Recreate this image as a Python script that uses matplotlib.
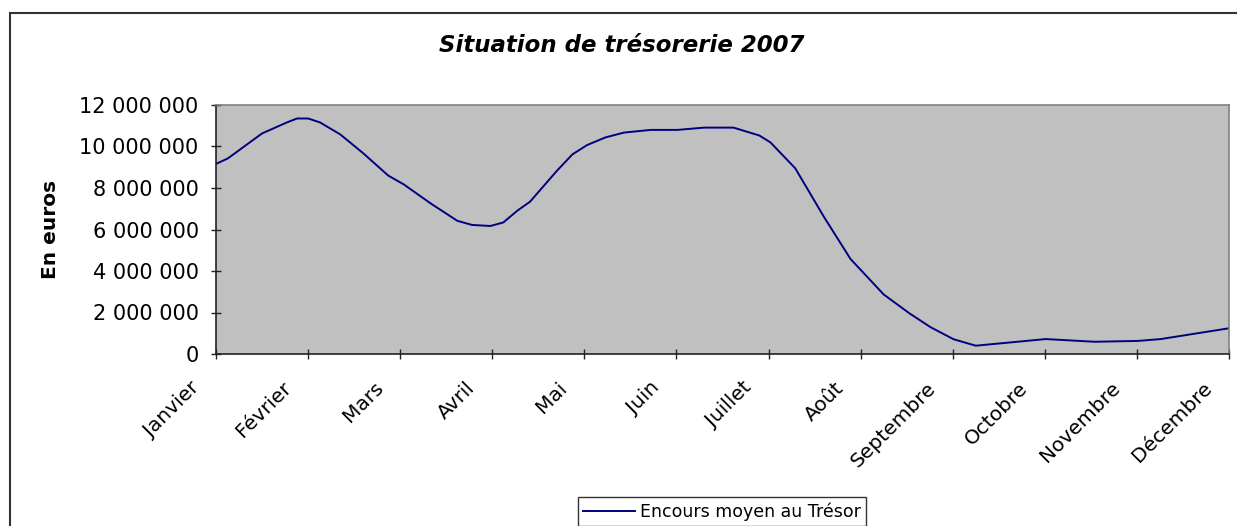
import matplotlib
matplotlib.use("Agg")
import matplotlib.pyplot as plt
from matplotlib.patches import Rectangle
from matplotlib.ticker import FuncFormatter
from matplotlib.transforms import ScaledTranslation

months = ["Janvier", "Février", "Mars", "Avril", "Mai", "Juin", "Juillet",
          "Août", "Septembre", "Octobre", "Novembre", "Décembre"]

# position along the year (in months from January) and average balance (euros)
t = [0, 0.13, 0.5, 0.77, 0.88, 1.0, 1.13, 1.35, 1.6, 1.87, 2.04, 2.33, 2.62,
     2.78, 2.98, 3.12, 3.27, 3.41, 3.7, 3.87, 4.03, 4.23, 4.43, 4.72, 5.01,
     5.3, 5.62, 5.9, 6.02, 6.29, 6.6, 6.89, 7.25, 7.53, 7.76, 8.01, 8.25,
     9.01, 9.54, 10.01, 10.26, 11.0]
encours = [9.16, 9.43, 10.63, 11.16, 11.35, 11.35, 11.16, 10.58, 9.67, 8.6,
           8.17, 7.26, 6.42, 6.22, 6.17, 6.34, 6.9, 7.34, 8.82, 9.62, 10.07,
           10.44, 10.67, 10.8, 10.8, 10.91, 10.91, 10.53, 10.2, 8.95, 6.62,
           4.58, 2.87, 1.96, 1.29, 0.71, 0.40, 0.72, 0.59, 0.63, 0.72, 1.24]
encours = [v * 1e6 for v in encours]

W, H = 1237, 526
fig = plt.figure(figsize=(W / 100, H / 100), dpi=100)
fig.patch.set_facecolor("white")

# outer chart frame (runs off the right and bottom edges)
fig.patches.append(Rectangle((10 / W, -0.2), 1.2, 1.2 - 13 / H,
                             transform=fig.transFigure, fill=False,
                             edgecolor="#333333", linewidth=1.5))

ax = fig.add_axes([216 / W, 1 - 354 / H, (1229 - 216) / W, (354 - 105) / H])
ax.set_facecolor("#C0C0C0")
ax.plot(t, encours, color="#000080", linewidth=1.4,
        label="Encours moyen au Trésor")

ax.set_xlim(0, 11)
ax.set_ylim(0, 12e6)
ax.set_yticks(range(0, 12000001, 2000000))
ax.yaxis.set_major_formatter(
    FuncFormatter(lambda v, p: f"{int(v):,}".replace(",", " ")))
ax.set_xticks(range(len(months)))
ax.set_xticklabels(months, rotation=45, ha="right", va="center",
                   rotation_mode="anchor")

ax.tick_params(axis="both", direction="inout", length=7, width=1,
               labelsize=15, color="#222222")
ax.tick_params(axis="x", labelsize=14.5, pad=8)
ax.tick_params(axis="y", pad=9)
shift = ScaledTranslation(-20 / 100, -15 / 100, fig.dpi_scale_trans)
for lab in ax.get_xticklabels():
    lab.set_transform(lab.get_transform() + shift)

for s in ["top", "right"]:
    ax.spines[s].set_color("#808080")
    ax.spines[s].set_linewidth(1.2)
for s in ["left", "bottom"]:
    ax.spines[s].set_color("#222222")
    ax.spines[s].set_linewidth(1.2)

ax.set_ylabel("En euros", fontsize=14.5, fontweight="bold", labelpad=14)
fig.text(622 / W, 1 - 45 / H, "Situation de trésorerie 2007", ha="center",
         va="center", fontsize=16.5, fontweight="bold", fontstyle="italic")

leg = fig.legend(loc="upper center", bbox_to_anchor=(722 / W, 1 - 497 / H),
                 fontsize=12.5, frameon=True, fancybox=False,
                 edgecolor="black", handlelength=3, borderpad=0.3,
                 handletextpad=0.3, borderaxespad=0)
leg.get_frame().set_linewidth(1)

fig.savefig("out.png", dpi=100)
